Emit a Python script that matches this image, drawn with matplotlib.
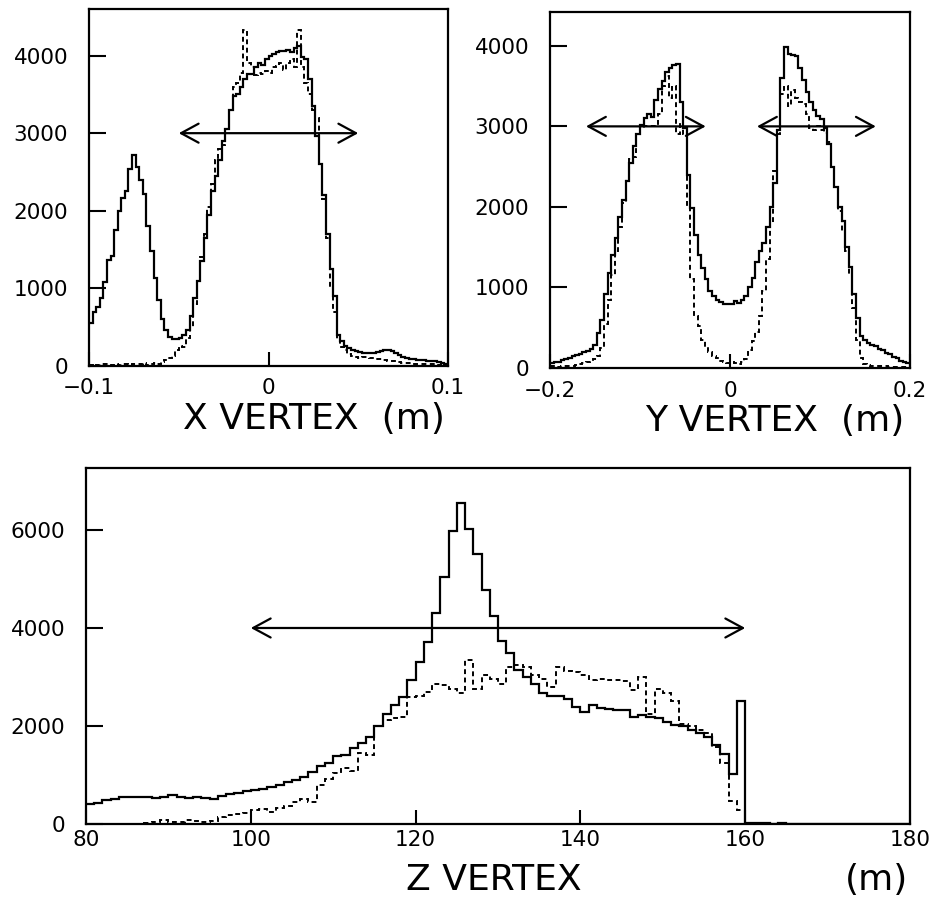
import numpy as np
import matplotlib
matplotlib.use("Agg")
import matplotlib.pyplot as plt

# ---------------- data ----------------
x_range = (-0.1, 0.1)
x_solid = [560, 700, 760, 880, 1080, 1360, 1420, 1750, 2000, 2160,
           2260, 2540, 2720, 2560, 2400, 2220, 1800, 1480, 1130, 850,
           600, 460, 380, 350, 350, 360, 400, 470, 650, 880,
           1100, 1350, 1650, 1950, 2250, 2450, 2650, 2900, 3050, 3300,
           3480, 3500, 3600, 3700, 3760, 3760, 3850, 3900, 3880, 3950,
           4000, 4020, 4040, 4060, 4060, 4070, 4050, 4100, 4120, 3980,
           3950, 3700, 3350, 2970, 2600, 2200, 1700, 1250, 900, 400,
           320, 260, 230, 200, 190, 180, 170, 165, 165, 170,
           175, 195, 210, 200, 190, 170, 140, 120, 100, 95,
           85, 80, 78, 75, 70, 68, 60, 50, 40, 30]
x_dashed = [10, 0, 10, 20, 30, 20, 10, 20, 10, 20,
            30, 10, 20, 30, 20, 40, 10, 20, 40, 30,
            50, 80, 100, 130, 200, 260, 250, 360, 500, 800,
            1100, 1400, 1700, 2050, 2350, 2650, 2800, 2850, 3050, 3300,
            3600, 3650, 3780, 4330, 3900, 3850, 3750, 3780, 3760, 3800,
            3780, 3850, 3870, 3900, 3820, 3900, 3950, 3850, 4330, 3850,
            3650, 3500, 3300, 3200, 2600, 2150, 1650, 1000, 700, 350,
            250, 200, 150, 130, 110, 100, 120, 110, 100, 100,
            95, 90, 80, 70, 60, 60, 50, 40, 40, 35,
            30, 30, 30, 25, 25, 20, 20, 15, 15, 10]

y_range = (-0.2, 0.2)
y_solid = [60, 70, 80, 100, 115, 130, 150, 165, 180, 195,
           215, 240, 290, 430, 600, 920, 1180, 1400, 1620, 1880,
           2080, 2320, 2550, 2760, 2900, 3020, 3100, 3150, 3120, 3330,
           3460, 3560, 3680, 3720, 3760, 3770, 3300, 2980, 2400, 1990,
           1650, 1400, 1240, 1110, 950, 890, 840, 820, 800, 790,
           790, 830, 810, 840, 900, 1000, 1120, 1320, 1450, 1550,
           1750, 2000, 2300, 2950, 3600, 3980, 3900, 3880, 3870, 3720,
           3580, 3430, 3300, 3200, 3130, 3090, 2980, 2780, 2490, 2250,
           2000, 1830, 1500, 1250, 920, 620, 400, 350, 310, 290,
           270, 240, 220, 190, 170, 140, 120, 90, 70, 60]
y_dashed = [20, 20, 10, 20, 30, 20, 30, 40, 50, 60,
            70, 90, 110, 150, 250, 550, 850, 1150, 1450, 1750,
            2050, 2350, 2600, 2620, 2900, 2980, 3000, 3000, 3010, 3000,
            3150, 3500, 3620, 3350, 3500, 2900, 3050, 2900, 2000, 1100,
            650, 520, 350, 260, 200, 150, 120, 90, 70, 60,
            80, 60, 50, 70, 110, 220, 330, 450, 650, 950,
            1350, 1800, 2450, 2900, 3400, 3500, 3250, 3450, 3350, 3300,
            3280, 3150, 2980, 2950, 3000, 2950, 2920, 2800, 2500, 2250,
            1950, 1700, 1450, 1150, 750, 350, 120, 50, 40, 30,
            30, 20, 20, 20, 10, 10, 10, 10, 10, 10]

z_range = (80, 180)
z_solid = [400, 420, 480, 520, 560, 550, 560, 550, 540, 560,
           590, 560, 540, 550, 530, 500, 580, 610, 640, 670,
           690, 720, 760, 800, 850, 900, 960, 1070, 1180, 1240,
           1380, 1410, 1550, 1650, 1780, 1990, 2250, 2420, 2590, 2930,
           3300, 3720, 4300, 5050, 5980, 6550, 6020, 5500, 4780, 4250,
           3740, 3480, 3150, 3000, 2850, 2670, 2620, 2610, 2560, 2380,
           2290, 2430, 2360, 2340, 2330, 2320, 2190, 2220, 2190, 2160,
           2080, 2020, 1990, 1920, 1850, 1780, 1620, 1420, 1020, 2500,
           20, 15, 20, 10, 15, 10, 5, 0, 0, 0,
           0, 0, 0, 0, 0, 0, 0, 0, 0, 0]
z_dashed = [0, 0, 10, 0, 10, 10, 0, 20, 40, 90,
            50, 40, 90, 60, 40, 60, 140, 180, 200, 220,
            290, 300, 240, 330, 370, 440, 500, 440, 800, 920,
            1040, 1150, 1080, 1450, 1410, 1990, 2130, 2170, 2190, 2590,
            2620, 2700, 2850, 2830, 2760, 2680, 3350, 2760, 3050, 2950,
            2850, 3200, 3240, 3200, 3050, 2950, 2800, 3200, 3120, 3100,
            3050, 2930, 2960, 2940, 2930, 2920, 2740, 3000, 2250, 2760,
            2680, 2500, 2050, 2000, 1920, 1850, 1580, 1250, 460, 290,
            0, 0, 0, 0, 0, 0, 0, 0, 0, 0,
            0, 0, 0, 0, 0, 0, 0, 0, 0, 0]

x_ticks = [-0.1, 0, 0.1]
x_ticklabels = ["\u22120.1", "0", "0.1"]
y_ticks = [-0.2, 0, 0.2]
y_ticklabels = ["\u22120.2", "0", "0.2"]
z_ticks = [80, 100, 120, 140, 160, 180]
xy_counts_ticks = [0, 1000, 2000, 3000, 4000]
z_counts_ticks = [0, 2000, 4000, 6000]

x_arrows = [(-0.05, 0.05, 3000)]
y_arrows = [(-0.16, -0.027, 3000), (0.03, 0.162, 3000)]
z_arrows = [(100, 160, 4000)]

# ---------------- drawing ----------------
plt.rcParams['font.family'] = ['DejaVu Sans']
fig = plt.figure(figsize=(9.32, 9.05), dpi=100)

LW = 1.6
DASH = (0, (2.5, 1.8))
TICKFS = 15.5
LABELFS = 26


def style_axes(ax, xlim, ylim, xticks, xlabels, yticks, xpad):
    ax.set_xlim(*xlim)
    ax.set_ylim(*ylim)
    for s in ax.spines.values():
        s.set_linewidth(1.6)
    ax.set_xticks(xticks)
    ax.set_xticklabels(xlabels, fontsize=TICKFS)
    ax.set_yticks(yticks)
    ax.set_yticklabels([str(v) for v in yticks], fontsize=TICKFS)
    ax.tick_params(axis='y', direction='in', length=12, width=1.5, pad=15)
    ax.tick_params(axis='x', direction='in', length=10, width=1.5, pad=xpad)


def draw_hist(ax, solid, dashed, rng):
    edges = np.linspace(rng[0], rng[1], len(solid) + 1)
    ax.stairs(solid, edges, baseline=None, color='black', lw=LW)
    ax.stairs(dashed, edges, baseline=None, color='black', lw=LW - 0.2,
              linestyle=DASH)


def draw_arrows(ax, arrows):
    for x0, x1, yv in arrows:
        ax.annotate('', xy=(x1, yv), xytext=(x0, yv),
                    arrowprops=dict(arrowstyle='<->,head_length=0.7,head_width=0.38',
                                    lw=1.6, color='black', mutation_scale=18,
                                    shrinkA=0, shrinkB=0))


# top-left: X vertex
ax1 = fig.add_axes([89 / 932, 1 - 366 / 905, 359 / 932, 357 / 905])
draw_hist(ax1, x_solid, x_dashed, x_range)
draw_arrows(ax1, x_arrows)
style_axes(ax1, x_range, (0, 4600), x_ticks, x_ticklabels, xy_counts_ticks, 9)
ax1.text(0.99, -0.1, "X VERTEX  (m)", transform=ax1.transAxes, ha='right',
         va='top', fontsize=LABELFS)

# top-right: Y vertex
ax2 = fig.add_axes([550 / 932, 1 - 368 / 905, 360 / 932, 356 / 905])
draw_hist(ax2, y_solid, y_dashed, y_range)
draw_arrows(ax2, y_arrows)
style_axes(ax2, y_range, (0, 4420), y_ticks, y_ticklabels, xy_counts_ticks, 9)
ax2.text(0.985, -0.1, "Y VERTEX  (m)", transform=ax2.transAxes, ha='right',
         va='top', fontsize=LABELFS)

# bottom: Z vertex
ax3 = fig.add_axes([86 / 932, 1 - 824 / 905, 824 / 932, 356 / 905])
draw_hist(ax3, z_solid, z_dashed, z_range)
draw_arrows(ax3, z_arrows)
style_axes(ax3, z_range, (0, 7265), z_ticks, [str(v) for v in z_ticks],
           z_counts_ticks, 4)
ax3.text(0.495, -0.11, "Z VERTEX", transform=ax3.transAxes, ha='center',
         va='top', fontsize=LABELFS)
ax3.text(0.998, -0.11, "(m)", transform=ax3.transAxes, ha='right',
         va='top', fontsize=LABELFS)

fig.savefig("out.png", dpi=100)
